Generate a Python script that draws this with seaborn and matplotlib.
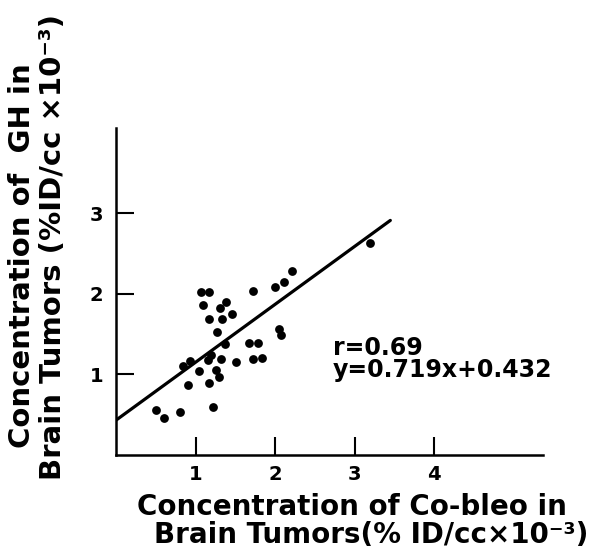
import matplotlib
matplotlib.use("Agg")
import matplotlib.pyplot as plt
import seaborn as sns
import pandas as pd
import numpy as np

# Data
cobleo = [0.50, 0.60, 0.81, 1.22, 0.91, 1.17, 1.29, 1.26, 1.05, 0.84, 0.93, 1.16,
          1.20, 1.32, 1.51, 1.37, 1.27, 1.17, 1.33, 1.46, 1.10, 1.31, 1.38, 1.07,
          1.17, 1.72, 1.67, 1.78, 1.72, 1.84, 2.05, 2.08, 2.00, 2.11, 2.21, 3.20]
gh = [0.56, 0.46, 0.54, 0.59, 0.87, 0.90, 0.97, 1.06, 1.04, 1.11, 1.17, 1.18,
      1.24, 1.19, 1.15, 1.38, 1.53, 1.69, 1.69, 1.75, 1.86, 1.83, 1.90, 2.03,
      2.03, 2.04, 1.39, 1.39, 1.19, 1.20, 1.56, 1.49, 2.09, 2.15, 2.28, 2.63]
slope = 0.719
intercept = 0.432
fit_x = [0.0, 3.45]
x_ticks = [1, 2, 3, 4]
y_ticks = [1, 2, 3]
r_label = "r=0.69"
eq_label = "y=0.719x+0.432"
xlabel_lines = ["Concentration of Co-bleo in", "Brain Tumors(% ID/cc×10⁻³)"]
ylabel_lines = ["Concentration of  GH in", "Brain Tumors (%ID/cc ×10⁻³)"]

df = pd.DataFrame({"cobleo": cobleo, "gh": gh})
fit_df = pd.DataFrame({"x": fit_x, "y": [slope * v + intercept for v in fit_x]})

sns.set_style("ticks")
plt.rcParams["font.family"] = ["DejaVu Sans"]
plt.rcParams["font.weight"] = "bold"
plt.rcParams["text.color"] = "black"
plt.rcParams["xtick.color"] = "black"
plt.rcParams["ytick.color"] = "black"
plt.rcParams["xtick.labelcolor"] = "black"
plt.rcParams["ytick.labelcolor"] = "black"

fig = plt.figure(figsize=(6.13, 5.50), dpi=100)
ax = fig.add_axes([116 / 613, 1 - 455 / 550, (543 - 116) / 613, (455 - 128) / 550])

sns.scatterplot(data=df, x="cobleo", y="gh", ax=ax, color="black", s=40,
                edgecolor="black", linewidth=0, zorder=3)
sns.lineplot(data=fit_df, x="x", y="y", ax=ax, color="black", linewidth=2.3, zorder=2)

ax.set_xlim(0, 5.37)
ax.set_ylim(0, 4.06)
ax.set_xticks(x_ticks)
ax.set_yticks(y_ticks)
ax.set_xticklabels([str(t) for t in x_ticks], fontsize=14, fontweight="bold", color="black")
ax.set_yticklabels([str(t) for t in y_ticks], fontsize=14, fontweight="bold", color="black")
ax.tick_params(axis="both", direction="in", length=13, width=1.5, color="black")
ax.tick_params(axis="x", pad=7)
ax.tick_params(axis="y", pad=9)
ax.set_xlabel("")
ax.set_ylabel("")
for side in ["top", "right"]:
    ax.spines[side].set_visible(False)
for side in ["left", "bottom"]:
    ax.spines[side].set_linewidth(1.8)
    ax.spines[side].set_color("black")

ax.text(2.73, 1.33, r_label, fontsize=17, fontweight="bold", ha="left", va="center",
        color="black")
ax.text(2.73, 1.05, eq_label, fontsize=17, fontweight="bold", ha="left", va="center",
        color="black")

fig.text(352 / 613, 1 - 507 / 550, xlabel_lines[0], fontsize=20, fontweight="bold",
         ha="center", va="center", color="black")
fig.text(371 / 613, 1 - 535 / 550, xlabel_lines[1], fontsize=20, fontweight="bold",
         ha="center", va="center", color="black")
fig.text(22 / 613, 1 - 256 / 550, ylabel_lines[0], fontsize=21, fontweight="bold",
         ha="center", va="center", rotation=90, color="black")
fig.text(53 / 613, 1 - 247 / 550, ylabel_lines[1], fontsize=21, fontweight="bold",
         ha="center", va="center", rotation=90, color="black")

fig.savefig("out.png", dpi=100, facecolor="white")
